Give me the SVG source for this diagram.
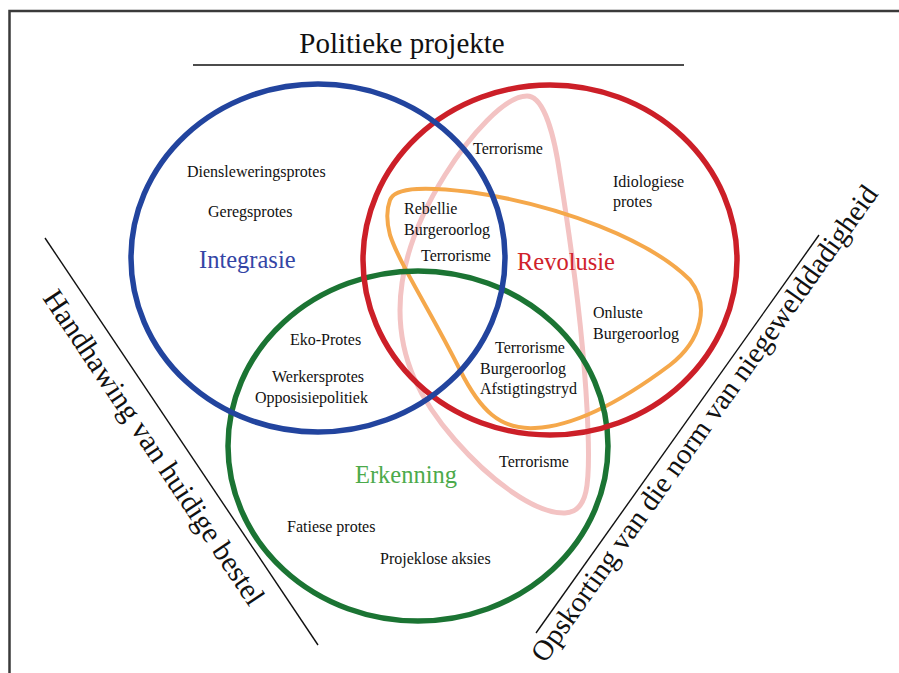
<svg xmlns="http://www.w3.org/2000/svg" width="899" height="673" viewBox="0 0 899 673">
<style>
  text { font-family: "Liberation Serif", "Times New Roman", serif; fill: #111; }
  .s { font-size: 16px; }
  .lbl { font-size: 24.5px; }
  .ring { fill: none; stroke-width: 5.5; }
  .rule { stroke: #111; stroke-width: 1.4; fill: none; }
</style>
<rect x="0" y="0" width="899" height="673" fill="#ffffff"/>
<path d="M 9.5,673 V 11 H 899" fill="none" stroke="#3a3a3a" stroke-width="2.5"/>

<g id="title">
  <text x="402" y="53" font-size="29" text-anchor="middle">Politieke projekte</text>
  <line class="rule" x1="193" y1="65" x2="684" y2="65" stroke-width="1.6"/>
</g>

<g id="pink-loop">
  <path d="M 527,96 C 545,96 555,140 560,175 C 572,250 585,350 588,430 C 590,485 588,512 565,513 C 535,514 490,480 455,440 C 420,400 400,360 400,310 C 400,260 420,215 445,175 C 470,135 505,96 527,96 Z" fill="none" stroke="#f3c3c3" stroke-width="5"/>
</g>
<g id="orange-loop">
  <path d="M 390,200 C 395,186 430,187 470,192 C 560,205 650,240 690,280 C 710,305 702,340 670,365 C 630,395 580,426 535,428 C 500,430 480,410 460,370 C 430,310 400,265 390,235 C 386,220 387,208 390,200 Z" fill="none" stroke="#f5a84b" stroke-width="4"/>
</g>

<g id="erkenning">
  <ellipse class="ring" cx="418" cy="446" rx="190" ry="175" stroke="#1b7433"/>
  <text class="lbl" x="355" y="483" fill="#4caa4b" style="fill:#4caa4b">Erkenning</text>
</g>
<g id="revolusie">
  <ellipse class="ring" cx="550" cy="260" rx="187" ry="175" stroke="#cc1f28"/>
  <text class="lbl" x="517" y="270" style="fill:#d0222b">Revolusie</text>
</g>
<g id="integrasie">
  <ellipse class="ring" cx="318" cy="258" rx="187" ry="174" stroke="#22449e"/>
  <text class="lbl" x="199" y="268" style="fill:#3445a5">Integrasie</text>
</g>

<g id="items">
  <text class="s" x="187" y="177">Diensleweringsprotes</text>
  <text class="s" x="208" y="217">Geregsprotes</text>
  <text class="s" x="473" y="154">Terrorisme</text>
  <text class="s" x="613" y="187">Idiologiese</text>
  <text class="s" x="613" y="207">protes</text>
  <text class="s" x="404" y="214">Rebellie</text>
  <text class="s" x="404" y="235">Burgeroorlog</text>
  <text class="s" x="421" y="261">Terrorisme</text>
  <text class="s" x="593" y="318">Onluste</text>
  <text class="s" x="593" y="339">Burgeroorlog</text>
  <text class="s" x="290" y="345">Eko-Protes</text>
  <text class="s" x="272" y="382">Werkersprotes</text>
  <text class="s" x="255" y="403">Opposisiepolitiek</text>
  <text class="s" x="495" y="353">Terrorisme</text>
  <text class="s" x="480" y="374">Burgeroorlog</text>
  <text class="s" x="480" y="394">Afstigtingstryd</text>
  <text class="s" x="499" y="467">Terrorisme</text>
  <text class="s" x="287" y="532">Fatiese protes</text>
  <text class="s" x="380" y="564">Projeklose aksies</text>
</g>

<g id="connectors">
  <line class="rule" x1="45" y1="238" x2="318" y2="645"/>
  <line class="rule" x1="536" y1="633" x2="819" y2="235"/>
</g>

<g id="axis-left">
  <text transform="translate(42,298) rotate(56.15)" font-size="29.5">Handhawing van huidige bestel</text>
</g>
<g id="axis-right">
  <text transform="translate(545,664) rotate(-54.6)" font-size="28.8">Opskorting van die norm van niegewelddadigheid</text>
</g>
</svg>
